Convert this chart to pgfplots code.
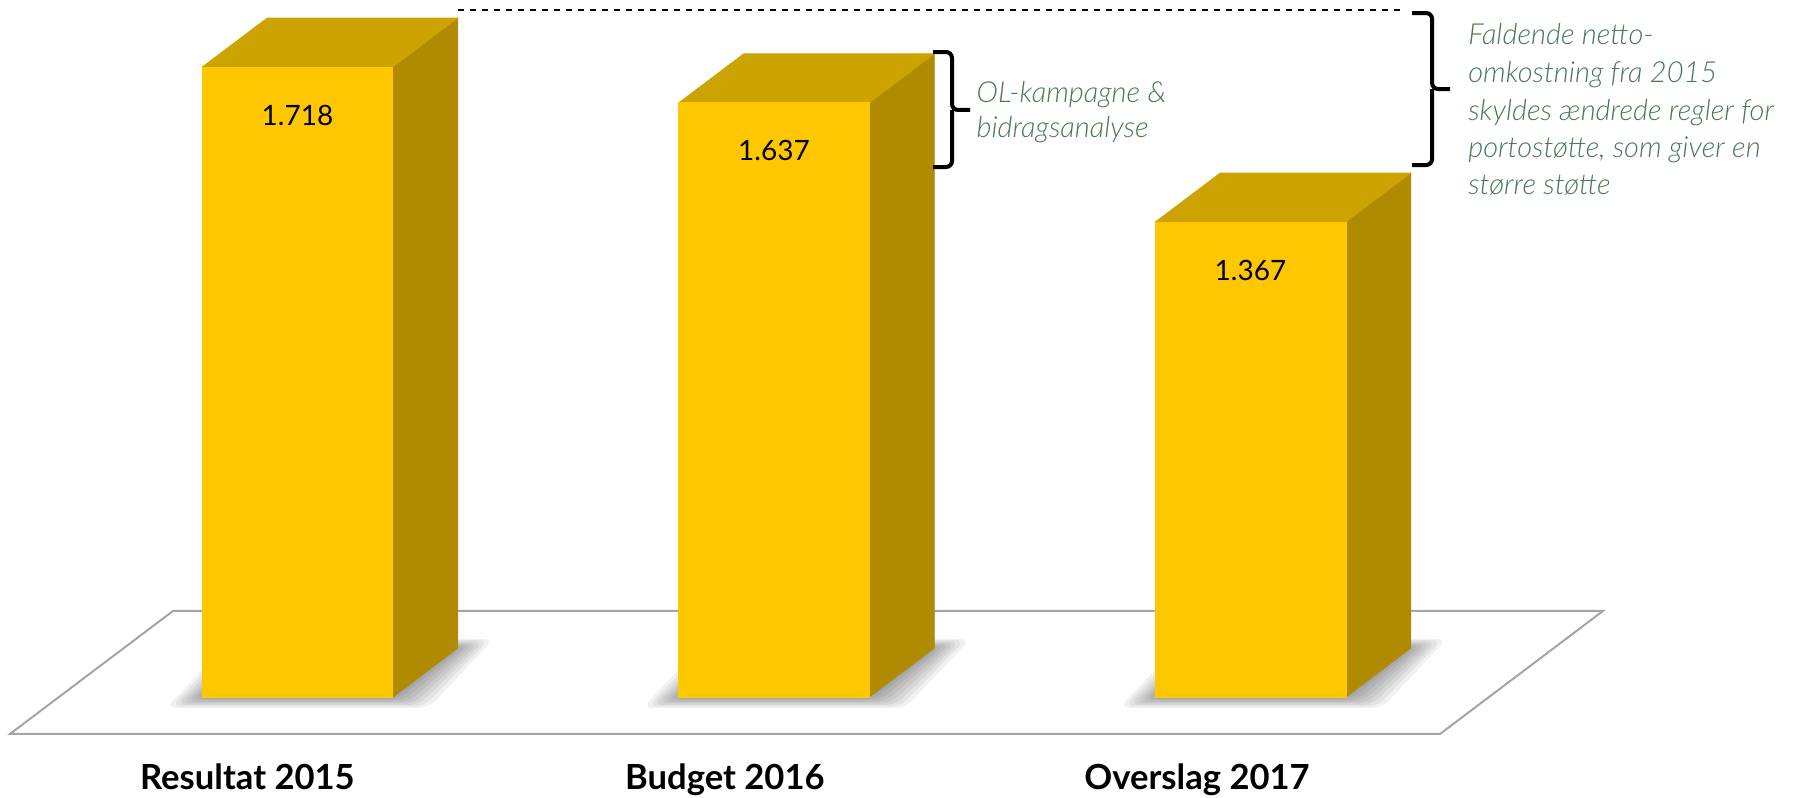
\documentclass[border=0pt]{standalone}
\usepackage{pgfplots}
\pgfplotsset{compat=1.18}
\usepackage{fontspec}
\setmainfont{Lato}
\newfontfamily\annotfont{Lato Light Italic}
\definecolor{barfront}{RGB}{255,199,0}
\definecolor{bartop}{RGB}{204,163,0}
\definecolor{barside}{RGB}{176,138,0}
\definecolor{annot}{RGB}{72,120,82}
\definecolor{floorline}{RGB}{165,165,165}

\newcommand{\shadowlayer}[4]{\fill[black, fill opacity=0.055, rounded corners=5pt] (axis cs:{#1-0.2-#2},{0.2914-#3}) -- (axis cs:{#1+0.2+#2},{0.2914-#3}) -- (axis cs:{#1+0.3364+#2},{0.4024+#4}) -- (axis cs:{#1-0.0636-#2},{0.4024+#4}) -- cycle;}
\newcommand{\barshadow}[1]{%
\shadowlayer{#1}{0.0756}{0.0249}{0.0204}%
\shadowlayer{#1}{0.0651}{0.0215}{0.0181}%
\shadowlayer{#1}{0.0546}{0.0181}{0.0147}%
\shadowlayer{#1}{0.0441}{0.0147}{0.0113}%
\shadowlayer{#1}{0.0336}{0.0113}{0.0091}%
\shadowlayer{#1}{0.0231}{0.0079}{0.0068}%
\shadowlayer{#1}{0.0126}{0.0045}{0.0045}%
\shadowlayer{#1}{0.0042}{0.0023}{0.0023}}

\begin{document}
\begin{tikzpicture}
\begin{axis}[
 scale only axis, width=898pt, height=399pt,
 xmin=-0.6243, xmax=3.1448, ymin=0.0627, ymax=1.8698,
 clip=false,
 axis line style={draw=none},
 major tick length=0pt,
 ytick=\empty,
 xtick={-0.105,0.897,1.888},
 xticklabels={Resultat 2015, Budget 2016, Overslag 2017},
 xticklabel style={anchor=base, yshift=4pt, font=\fontsize{17.3}{20}\selectfont\bfseries},
]
% floor
\addplot[draw=floorline, line width=1pt, fill=white, line join=miter] coordinates {(-0.6034,0.2077) (2.3977,0.2077) (2.7397,0.4862) (-0.2613,0.4862)} -- cycle;
% shadows
\barshadow{0}
\barshadow{1}
\barshadow{2}
% bar 1
\addplot[fill=barside, draw=barside, line width=0.3pt] coordinates {(0.2,0.2914) (0.3364,0.4024) (0.3364,1.829) (0.2,1.718)} -- cycle;
\addplot[fill=bartop, draw=bartop, line width=0.3pt] coordinates {(-0.2,1.718) (0.2,1.718) (0.3364,1.829) (-0.0636,1.829)} -- cycle;
\addplot[fill=barfront, draw=barfront, line width=0.3pt] coordinates {(-0.2,0.2914) (0.2,0.2914) (0.2,1.718) (-0.2,1.718)} -- cycle;
% bar 2
\addplot[fill=barside, draw=barside, line width=0.3pt] coordinates {(1.2,0.2914) (1.3364,0.4024) (1.3364,1.748) (1.2,1.637)} -- cycle;
\addplot[fill=bartop, draw=bartop, line width=0.3pt] coordinates {(0.8,1.637) (1.2,1.637) (1.3364,1.748) (0.9364,1.748)} -- cycle;
\addplot[fill=barfront, draw=barfront, line width=0.3pt] coordinates {(0.8,0.2914) (1.2,0.2914) (1.2,1.637) (0.8,1.637)} -- cycle;
% bar 3
\addplot[fill=barside, draw=barside, line width=0.3pt] coordinates {(2.2,0.2914) (2.3364,0.4024) (2.3364,1.478) (2.2,1.367)} -- cycle;
\addplot[fill=bartop, draw=bartop, line width=0.3pt] coordinates {(1.8,1.367) (2.2,1.367) (2.3364,1.478) (1.9364,1.478)} -- cycle;
\addplot[fill=barfront, draw=barfront, line width=0.3pt] coordinates {(1.8,0.2914) (2.2,0.2914) (2.2,1.367) (1.8,1.367)} -- cycle;
% value labels
\addplot[draw=none, mark=none, nodes near coords, point meta=explicit symbolic,
  nodes near coords style={anchor=base, yshift=-29pt, font=\fontsize{14}{17}\selectfont, text=black}]
  coordinates {(0,1.718)[1.718] (1,1.637)[1.637] (2,1.367)[1.367]};
% annotations
\draw[line width=0.75pt, dash pattern=on 3pt off 3pt] (axis cs:0.337,1.847) -- (axis cs:2.324,1.847);
\draw[line width=2pt, rounded corners=3pt] (axis cs:2.3392,1.8403) -- (axis cs:2.3811,1.8403) -- (axis cs:2.3811,1.6682) -- (axis cs:2.4189,1.6682);
\draw[line width=2pt, rounded corners=3pt] (axis cs:2.3392,1.4961) -- (axis cs:2.3811,1.4961) -- (axis cs:2.3811,1.6682);
\draw[line width=2pt, rounded corners=3pt] (axis cs:1.3337,1.7520) -- (axis cs:1.3736,1.7520) -- (axis cs:1.3736,1.6207) -- (axis cs:1.4114,1.6207);
\draw[line width=2pt, rounded corners=3pt] (axis cs:1.3337,1.4916) -- (axis cs:1.3736,1.4916) -- (axis cs:1.3736,1.6207);
\begin{scope}[every node/.style={anchor=base west, inner sep=0pt, text=annot, font=\annotfont\fontsize{14.5}{17}\selectfont}]
\node at (axis cs:1.4244,1.6366) {OL-kampagne \&};
\node at (axis cs:1.4244,1.5573) {bidragsanalyse};
\node at (axis cs:2.4563,1.7679) {Faldende netto-};
\node at (axis cs:2.4563,1.6830) {omkostning fra 2015};
\node at (axis cs:2.4563,1.5980) {skyldes ændrede regler for};
\node at (axis cs:2.4563,1.5131) {portostøtte, som giver en};
\node at (axis cs:2.4563,1.4282) {større støtte};
\end{scope}
\end{axis}
\pgfresetboundingbox
\useasboundingbox (current axis.south west) rectangle (current axis.north east);
\end{tikzpicture}
\end{document}
